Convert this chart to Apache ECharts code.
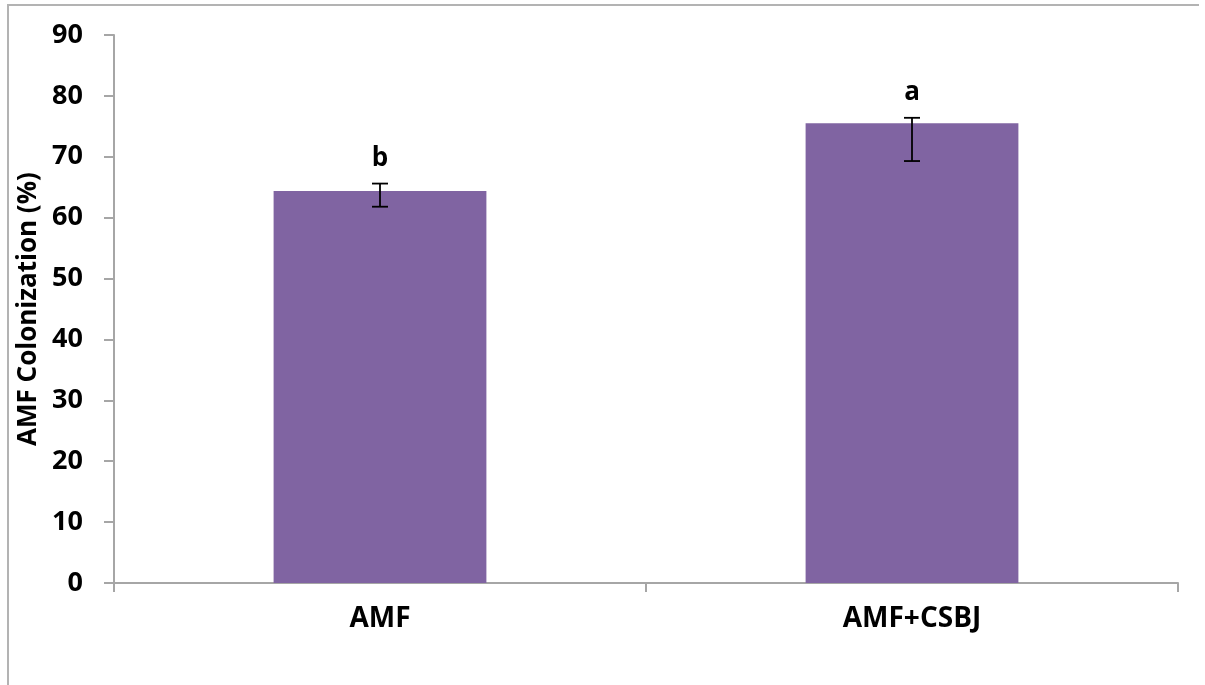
<!DOCTYPE html>
<html>
<head>
<meta charset="utf-8">
<script src="https://cdn.jsdelivr.net/npm/echarts@6/dist/echarts.min.js"></script>
<style>html,body{margin:0;padding:0;background:#fff;overflow:hidden;}#c{width:1205px;height:685px;}</style>
</head>
<body>
<div id="c"></div>
<script>
var categories = ['AMF', 'AMF+CSBJ'];
var means = [64.4, 75.5];
var errLow = [61.8, 69.3];
var errHigh = [65.6, 76.4];
var letters = ['b', 'a'];
var yTicks = [0, 10, 20, 30, 40, 50, 60, 70, 80, 90];

var FONT = '"Open Sans", "Liberation Sans", sans-serif';
var chart = echarts.init(document.getElementById('c'));
var errData = categories.map(function (c, i) { return [i, errLow[i], errHigh[i], letters[i]]; });

chart.setOption({
  animation: false,
  backgroundColor: '#ffffff',
  graphic: [{
    type: 'line', z: -1, silent: true,
    shape: { x1: 8, y1: 5, x2: 8, y2: 690 },
    style: { stroke: '#b3b3b3', lineWidth: 2 }
  }, {
    type: 'line', z: -1, silent: true,
    shape: { x1: 7, y1: 5, x2: 1199, y2: 5 },
    style: { stroke: '#b3b3b3', lineWidth: 2 }
  }],
  grid: { left: 114, right: 27, top: 35, bottom: 102 },
  xAxis: {
    type: 'category',
    data: categories,
    axisLine: { lineStyle: { color: '#a6a6a6', width: 2 } },
    axisTick: { show: true, length: 9, lineStyle: { color: '#a6a6a6', width: 2 } },
    axisLabel: { color: '#000', fontSize: 28, fontWeight: 'bold', fontFamily: FONT, margin: 22 }
  },
  yAxis: {
    type: 'value',
    min: yTicks[0], max: yTicks[yTicks.length - 1], interval: 10,
    name: 'AMF Colonization (%)',
    nameLocation: 'middle',
    nameGap: 70,
    nameTextStyle: { color: '#000', fontSize: 26, fontWeight: 'bold', fontFamily: FONT },
    axisLine: { show: true, lineStyle: { color: '#a6a6a6', width: 2 } },
    axisTick: { show: true, length: 10, lineStyle: { color: '#a6a6a6', width: 2 } },
    splitLine: { show: false },
    axisLabel: { color: '#000', fontSize: 27, fontWeight: 'bold', fontFamily: FONT, margin: 31 }
  },
  series: [{
    type: 'bar',
    data: means,
    barWidth: '40%',
    itemStyle: { color: '#8064a2' }
  }, {
    type: 'custom',
    data: errData,
    z: 10,
    renderItem: function (params, api) {
      var x = api.value(0);
      var lo = api.coord([x, api.value(1)]);
      var hi = api.coord([x, api.value(2)]);
      var cap = 8;
      var st = { stroke: '#000', lineWidth: 1.8 };
      return {
        type: 'group',
        children: [
          { type: 'line', shape: { x1: lo[0], y1: lo[1], x2: hi[0], y2: hi[1] }, style: st },
          { type: 'line', shape: { x1: lo[0] - cap, y1: lo[1], x2: lo[0] + cap, y2: lo[1] }, style: st },
          { type: 'line', shape: { x1: hi[0] - cap, y1: hi[1], x2: hi[0] + cap, y2: hi[1] }, style: st },
          { type: 'text', style: {
              text: letters[params.dataIndex], x: hi[0], y: hi[1] - 25,
              textAlign: 'center', textVerticalAlign: 'middle',
              fill: '#000', font: 'bold 26px ' + FONT } }
        ]
      };
    }
  }]
});
</script>
</body>
</html>
